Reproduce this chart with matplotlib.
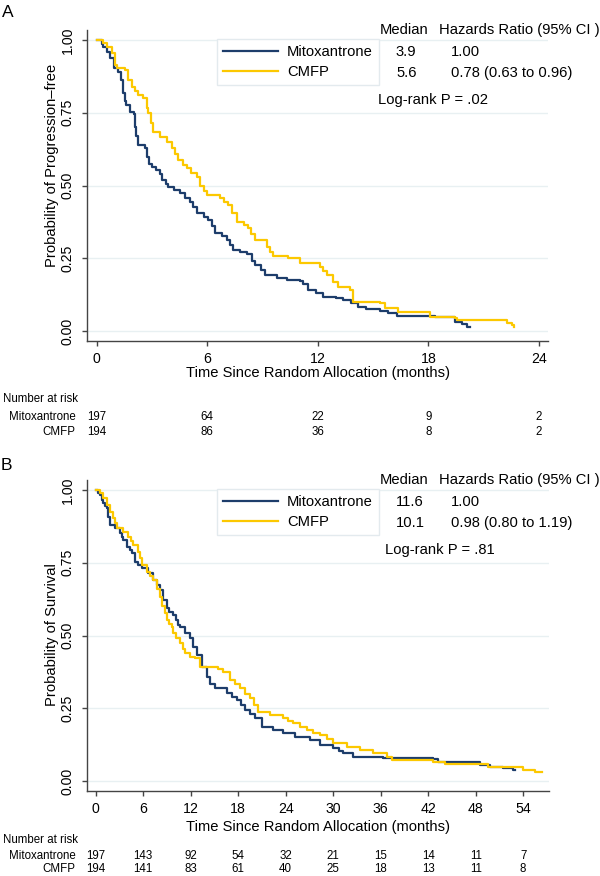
import matplotlib
matplotlib.use("Agg")
from matplotlib import pyplot as plt
from matplotlib.transforms import blended_transform_factory

plt.rcParams['font.family'] = ['Liberation Sans', 'DejaVu Sans']

# Panel A: progression-free survival (time in months, probability)
pfs_mito_t = [0, 0.3, 0.36, 0.58, 0.72, 0.94, 1.17, 1.30, 1.44, 1.52, 1.59, 1.81, 2.00, 2.08, 2.15,
              2.26, 2.62, 2.71, 2.85, 2.98, 3.2, 3.43, 3.52, 3.75, 3.89, 4.2, 4.52, 4.8, 5.06, 5.25,
              5.43, 5.8, 6.06, 6.25, 6.42, 6.8, 7.05, 7.25, 7.41, 7.8, 8.14, 8.41, 8.6, 8.9, 9.13,
              9.77, 10.3, 11.03, 11.2, 11.48, 11.9, 12.30, 13.0, 13.38, 13.8, 14.19, 14.6, 15.37,
              15.82, 16.28, 18.36, 19.44, 19.80, 20.1, 20.26]
pfs_mito_s = [1.0, 0.985, 0.977, 0.960, 0.937, 0.903, 0.891, 0.863, 0.817, 0.790, 0.777, 0.754, 0.745,
              0.702, 0.670, 0.639, 0.628, 0.599, 0.575, 0.565, 0.552, 0.540, 0.519, 0.505, 0.496,
              0.485, 0.473, 0.458, 0.444, 0.425, 0.404, 0.392, 0.381, 0.360, 0.336, 0.325, 0.313,
              0.295, 0.278, 0.270, 0.265, 0.240, 0.227, 0.210, 0.192, 0.181, 0.176, 0.172, 0.160,
              0.141, 0.130, 0.118, 0.112, 0.107, 0.095, 0.084, 0.077, 0.070, 0.061, 0.053, 0.047,
              0.032, 0.024, 0.015, 0.015]
pfs_cmfp_t = [0, 0.36, 0.55, 0.81, 0.99, 1.09, 1.54, 1.72, 1.90, 2.10, 2.26, 2.53, 2.71, 2.80, 2.95,
              3.07, 3.43, 3.80, 4.07, 4.25, 4.43, 4.70, 4.88, 5.10, 5.43, 5.60, 5.80, 5.97, 6.69,
              6.90, 7.14, 7.35, 7.60, 8.0, 8.23, 8.40, 8.59, 9.22, 9.40, 9.58, 10.40, 11.03, 12.12,
              12.30, 12.48, 12.80, 13.11, 13.74, 13.89, 15.37, 15.64, 16.35, 18.08, 19.44, 19.53,
              22.06, 22.25, 22.52, 22.64]
pfs_cmfp_s = [1.0, 0.990, 0.977, 0.954, 0.914, 0.903, 0.897, 0.863, 0.840, 0.825, 0.811, 0.800, 0.765,
              0.748, 0.715, 0.685, 0.668, 0.650, 0.630, 0.610, 0.588, 0.570, 0.559, 0.542, 0.530,
              0.500, 0.480, 0.467, 0.456, 0.445, 0.433, 0.405, 0.376, 0.365, 0.353, 0.335, 0.313,
              0.290, 0.270, 0.258, 0.250, 0.233, 0.221, 0.205, 0.192, 0.170, 0.152, 0.141, 0.101,
              0.097, 0.078, 0.064, 0.049, 0.044, 0.038, 0.038, 0.029, 0.021, 0.015]

# Panel B: overall survival
os_mito_t = [0, 0.3, 0.54, 0.8, 0.96, 1.2, 1.39, 1.59, 1.81, 2.44, 3.07, 3.3, 3.49, 3.92, 4.3, 4.55,
             4.96, 5.4, 5.81, 6.64, 7.28, 7.7, 8.12, 8.54, 8.97, 9.3, 9.80, 10.1, 10.43, 10.65,
             11.28, 11.91, 12.3, 12.76, 13.39, 14.02, 14.5, 15.07, 16.55, 17.2, 17.81, 18.3, 18.86,
             19.5, 20.12, 20.97, 22.43, 23.70, 25.17, 27.07, 28.33, 30.02, 30.7, 31.28, 32.54,
             36.3, 42.6, 43.3, 48.6, 49.8, 51.5, 52.7, 53.0]
os_mito_s = [1.0, 0.990, 0.983, 0.965, 0.954, 0.945, 0.937, 0.908, 0.880, 0.868, 0.851, 0.840, 0.828,
             0.805, 0.795, 0.782, 0.754, 0.742, 0.731, 0.714, 0.691, 0.672, 0.656, 0.622, 0.593,
             0.580, 0.570, 0.553, 0.536, 0.530, 0.508, 0.490, 0.460, 0.433, 0.393, 0.358, 0.335,
             0.318, 0.301, 0.290, 0.278, 0.262, 0.244, 0.230, 0.215, 0.187, 0.175, 0.164, 0.152,
             0.141, 0.124, 0.112, 0.104, 0.095, 0.084, 0.078, 0.075, 0.066, 0.055, 0.048, 0.043,
             0.038, 0.038]
os_cmfp_t = [0, 0.54, 0.96, 1.39, 1.81, 2.22, 2.45, 2.65, 3.49, 4.12, 4.45, 4.75, 5.38, 5.6, 5.81,
             6.44, 6.9, 7.28, 7.7, 8.12, 8.4, 8.75, 8.97, 9.3, 9.60, 9.80, 10.2, 10.65, 11.0, 11.28,
             11.91, 12.54, 13.18, 15.5, 16.12, 16.96, 17.6, 18.23, 18.9, 19.49, 20.0, 20.54, 22.02,
             23.70, 24.3, 24.96, 25.8, 26.65, 27.5, 28.33, 29.2, 30.02, 31.70, 33.38, 35.06, 36.76,
             37.39, 42.6, 44.1, 49.6, 54.0, 55.5, 56.4]
os_cmfp_s = [1.0, 0.990, 0.971, 0.948, 0.925, 0.903, 0.885, 0.868, 0.857, 0.840, 0.825, 0.811, 0.788,
             0.765, 0.742, 0.719, 0.705, 0.691, 0.660, 0.633, 0.600, 0.576, 0.553, 0.540, 0.530,
             0.508, 0.490, 0.473, 0.455, 0.439, 0.427, 0.421, 0.393, 0.385, 0.376, 0.347, 0.332,
             0.318, 0.300, 0.284, 0.262, 0.238, 0.227, 0.215, 0.206, 0.198, 0.187, 0.175, 0.166,
             0.158, 0.145, 0.130, 0.118, 0.107, 0.095, 0.084, 0.072, 0.066, 0.058, 0.049, 0.038,
             0.031, 0.031]

# number at risk tables
risk_ticks_a = [0, 6, 12, 18, 24]
risk_mito_a = [197, 64, 22, 9, 2]
risk_cmfp_a = [194, 86, 36, 8, 2]
risk_ticks_b = [0, 6, 12, 18, 24, 30, 36, 42, 48, 54]
risk_mito_b = [197, 143, 92, 54, 32, 21, 15, 14, 11, 7]
risk_cmfp_b = [194, 141, 83, 61, 40, 25, 18, 13, 11, 8]

groups = ['Mitoxantrone', 'CMFP']
medians_a = ['3.9', '5.6']
medians_b = ['11.6', '10.1']
hr_a = ['1.00', '0.78 (0.63 to 0.96)']
hr_b = ['1.00', '0.98 (0.80 to 1.19)']
pval_a = '.02'
pval_b = '.81'

NAVY = '#1d3d6b'
GOLD = '#fcc800'
W, H = 600, 876


def fx(px):
    return px / W


def fy(py):
    return 1 - py / H


def panel(fig, top, bottom, right, xmax_lim, xmin_lim, xticks, mito, cmfp, ylabel,
          ylab_y, meds, hrs, pval, lr_x, risk_m, risk_c, rows_y):
    ax = fig.add_axes([fx(87.3), fy(bottom), fx(right) - fx(87.3), (bottom - top) / H])
    ax.step(mito[0], mito[1], where='post', color=NAVY, lw=1.6, label=groups[0], zorder=3)
    ax.step(cmfp[0], cmfp[1], where='post', color=GOLD, lw=1.6, label=groups[1], zorder=3)
    ax.set_xlim(xmin_lim, xmax_lim)
    ax.set_ylim(-0.0333, 1.0344)
    ax.set_xticks(xticks)
    ax.set_yticks([0, 0.25, 0.5, 0.75, 1.0])
    ax.set_yticklabels(['0.00', '0.25', '0.50', '0.75', '1.00'], rotation=90, va='center')
    ax.grid(axis='y', color='#e8f0f2', lw=1, zorder=0)
    for s in ['top', 'right']:
        ax.spines[s].set_visible(False)
    for s in ['left', 'bottom']:
        ax.spines[s].set_color('#444444')
        ax.spines[s].set_linewidth(1.0)
    ax.tick_params(axis='both', length=3.5, width=1, color='#444444', labelsize=10.2, pad=4.5)
    ax.tick_params(axis='y', pad=5.5)

    fig.text(fx(52), fy(ylab_y), ylabel, rotation=90, ha='center', va='center', fontsize=10.6)

    # legend block with medians and hazard ratios
    ax.legend(loc='upper left', bbox_to_anchor=(fx(217), fy(top + 9)), bbox_transform=fig.transFigure,
              borderaxespad=0, frameon=True, fancybox=False, edgecolor='#e3eaee', framealpha=1,
              fontsize=10.6, handlelength=3.75, handletextpad=0.6, labelspacing=0.38, borderpad=0.42)
    fig.text(fx(380), fy(top), 'Median', ha='left', va='center', fontsize=10.6)
    fig.text(fx(439), fy(top), 'Hazards Ratio (95% CI )', ha='left', va='center', fontsize=10.6)
    row_y = [top + 22.3, top + 43]
    for i in range(2):
        fig.text(fx(396), fy(row_y[i]), meds[i], ha='left', va='center', fontsize=10.6)
        fig.text(fx(451), fy(row_y[i]), hrs[i], ha='left', va='center', fontsize=10.6)
    fig.text(fx(lr_x), fy(top + 70), 'Log-rank P = ' + pval, ha='left', va='center', fontsize=10.6)

    fig.text(fx(318), fy(rows_y[0]), 'Time Since Random Allocation (months)', ha='center',
             va='center', fontsize=10.6)
    fig.text(fx(3), fy(rows_y[1]), 'Number at risk', ha='left', va='center', fontsize=8.3)
    fig.text(fx(75.5), fy(rows_y[2]), groups[0], ha='right', va='center', fontsize=8.3)
    fig.text(fx(75.5), fy(rows_y[3]), groups[1], ha='right', va='center', fontsize=8.3)
    tr = blended_transform_factory(ax.transData, fig.transFigure)
    for t, m, c in zip(xticks, risk_m, risk_c):
        ax.text(t, fy(rows_y[2]), str(m), transform=tr, ha='center', va='center', fontsize=8.3)
        ax.text(t, fy(rows_y[3]), str(c), transform=tr, ha='center', va='center', fontsize=8.3)
    return ax


fig = plt.figure(figsize=(6, 8.76), dpi=100)

panel(fig, 30, 340.7, 548, 24.49, -0.51, risk_ticks_a, (pfs_mito_t, pfs_mito_s),
      (pfs_cmfp_t, pfs_cmfp_s), 'Probability of Progression\u2013free', 165, medians_a, hr_a,
      pval_a, 378, risk_mito_a, risk_cmfp_a, [373, 399, 416.5, 432])
panel(fig, 480, 790.7, 549.3, 57.3, -1.06, risk_ticks_b, (os_mito_t, os_mito_s),
      (os_cmfp_t, os_cmfp_s), 'Probability of Survival', 635, medians_b, hr_b,
      pval_b, 385, risk_mito_b, risk_cmfp_b, [827, 840, 856, 869.5])

fig.text(fx(1.5), fy(12.8), 'A', ha='left', va='center', fontsize=12.5)
fig.text(fx(0.5), fy(465), 'B', ha='left', va='center', fontsize=12.5)

plt.savefig('out.png', dpi=100)
